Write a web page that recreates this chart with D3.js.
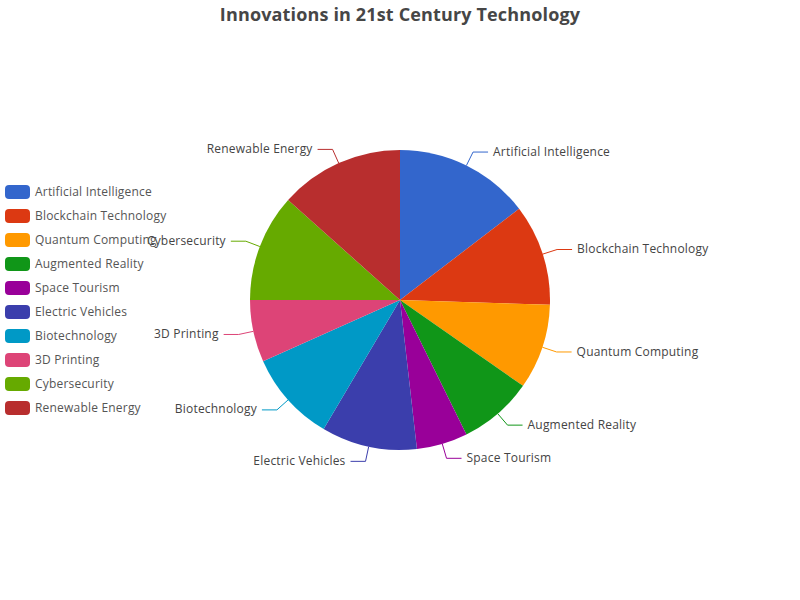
<!DOCTYPE html>
<html>
<head>
<meta charset="utf-8">
<script src="https://cdn.jsdelivr.net/npm/d3@7"></script>
<style>
  html, body { margin: 0; padding: 0; background: #fff; }
  svg { display: block; }
</style>
</head>
<body>
<svg id="chart" width="800" height="600"></svg>
<script>
const titleText = "Innovations in 21st Century Technology";
const categories = [
  "Artificial Intelligence", "Blockchain Technology", "Quantum Computing",
  "Augmented Reality", "Space Tourism", "Electric Vehicles",
  "Biotechnology", "3D Printing", "Cybersecurity", "Renewable Energy"
];
const values = [14.6, 10.9, 9.2, 8.0, 5.5, 10.3, 9.8, 6.7, 11.6, 13.4];
const colors = ["#3366cc", "#dc3912", "#ff9900", "#109618", "#990099",
                "#3b3eac", "#0099c6", "#dd4477", "#66aa00", "#b82e2e"];

const W = 800, H = 600;
const cx = 400, cy = 300, R = 150;
const len1 = 15, len2 = 15, gap = 5;
const font = "'Open Sans', 'Noto Sans', sans-serif";

const svg = d3.select("#chart");

// title
svg.append("text")
  .attr("x", W / 2).attr("y", 21)
  .attr("text-anchor", "middle")
  .attr("font-family", font)
  .attr("font-size", 18).attr("font-weight", "bold")
  .attr("letter-spacing", 0.15)
  .attr("fill", "#464646")
  .text(titleText);

const data = categories.map((c, i) => ({ name: c, value: values[i], color: colors[i] }));
const pie = d3.pie().value(d => d.value).sort(null);
const arcs = pie(data);
const arc = d3.arc().innerRadius(0).outerRadius(R);

const g = svg.append("g").attr("transform", `translate(${cx},${cy})`);
g.selectAll("path.slice").data(arcs).enter().append("path")
  .attr("class", "slice")
  .attr("d", arc)
  .attr("fill", d => d.data.color);

// labels + leader lines
const pt = (a, r) => [r * Math.sin(a), -r * Math.cos(a)];
arcs.forEach(d => {
  const a = (d.startAngle + d.endAngle) / 2;
  const p0 = pt(a, R), p1 = pt(a, R + len1);
  const right = Math.sin(a) >= 0;
  const p2 = [p1[0] + (right ? len2 : -len2), p1[1]];
  g.append("polyline")
    .attr("points", [p0, p1, p2].map(p => p.join(",")).join(" "))
    .attr("fill", "none")
    .attr("stroke", d.data.color)
    .attr("stroke-width", 1);
  g.append("text")
    .attr("x", p2[0] + (right ? gap : -gap))
    .attr("y", p2[1])
    .attr("dy", "0.3em")
    .attr("text-anchor", right ? "start" : "end")
    .attr("font-family", font)
    .attr("font-size", 12)
    .attr("letter-spacing", 0.2)
    .attr("fill", "#444")
    .text(d.data.name);
});

// legend
const itemH = 14, itemGap = 10;
const legendH = categories.length * itemH + (categories.length - 1) * itemGap;
const legendTop = (H - legendH) / 2;
const lg = svg.append("g");
const items = lg.selectAll("g.item").data(data).enter().append("g")
  .attr("class", "item")
  .attr("transform", (d, i) => `translate(5,${legendTop + i * (itemH + itemGap)})`);
items.append("rect")
  .attr("width", 25).attr("height", itemH)
  .attr("rx", 4).attr("ry", 4)
  .attr("fill", d => d.color);
items.append("text")
  .attr("x", 30).attr("y", itemH / 2)
  .attr("dy", "0.3em")
  .attr("font-family", font)
  .attr("font-size", 12)
  .attr("letter-spacing", 0.2)
  .attr("fill", "#555")
  .text(d => d.name);
</script>
</body>
</html>
